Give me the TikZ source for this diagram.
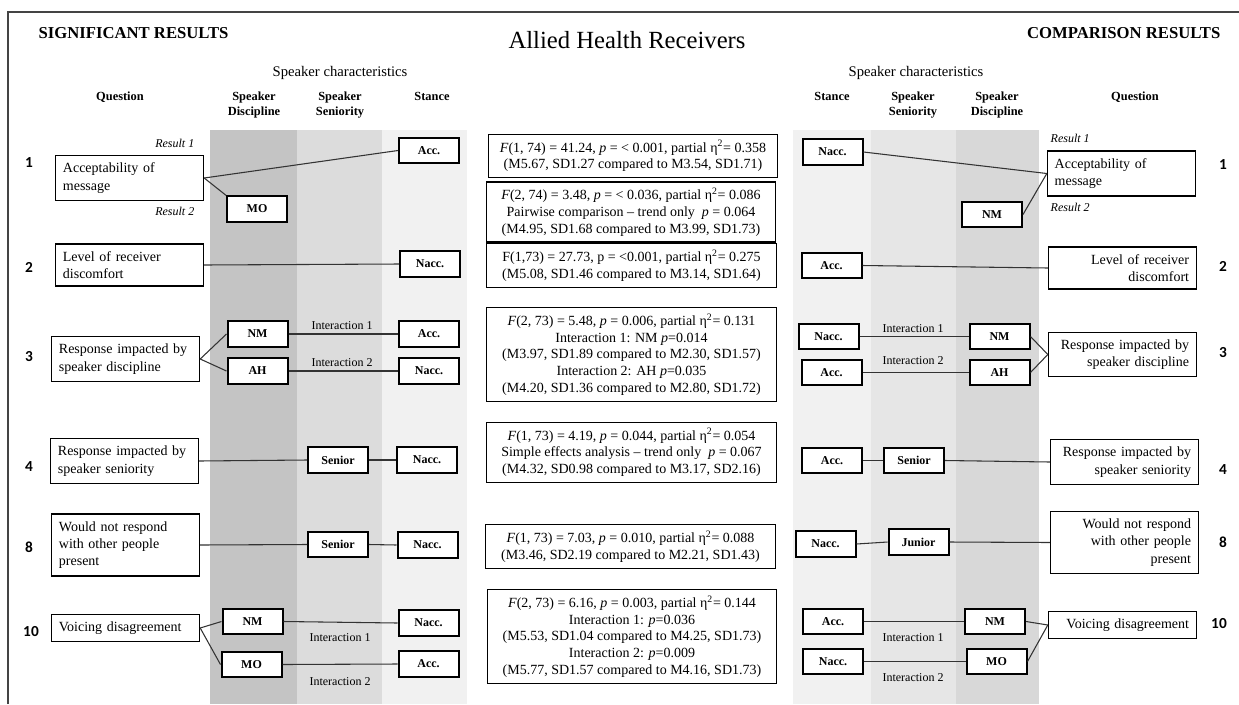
\documentclass[tikz,border=0pt]{standalone}
\usepackage{fontspec}
\setmainfont{Liberation Serif}
\newfontfamily\numfont{Carlito}
\definecolor{discL}{HTML}{C4C4C4}
\definecolor{seniL}{HTML}{DCDCDC}
\definecolor{stanL}{HTML}{F1F1F1}
\definecolor{stanR}{HTML}{F1F1F1}
\definecolor{seniR}{HTML}{E6E6E6}
\definecolor{discR}{HTML}{D8D8D8}
\definecolor{linkgray}{HTML}{333333}
\definecolor{framegray}{HTML}{444444}

\begin{document}
\begin{tikzpicture}[x=0.75pt,y=-0.75pt]
  \tikzset{
    qbox/.style={draw, fill=white, line width=0.9pt, text width=100pt, inner xsep=5.5pt, inner ysep=5.5pt,
      font=\fontsize{10.5}{13}\selectfont},
    qleft/.style={qbox, align=left, anchor=west},
    qright/.style={qbox, align=right, anchor=east},
    tag/.style={draw, fill=white, line width=1.5pt, minimum width=45pt, minimum height=19pt, inner sep=0pt,
      font=\fontsize{9}{10}\selectfont\bfseries},
    stat/.style={draw, fill=white, line width=0.9pt, minimum width=217pt, align=center, inner ysep=4.5pt,
      font=\fontsize{10.5}{12.5}\selectfont},
    link/.style={line width=0.8pt, draw=linkgray},
    inter/.style={font=\fontsize{9}{10}\selectfont},
    res/.style={font=\fontsize{9}{10}\selectfont\itshape},
    colhead/.style={font=\fontsize{9.3}{11}\selectfont\bfseries, align=center, anchor=north, inner sep=0pt},
    qnum/.style={font=\fontsize{11.5}{12}\numfont\bfseries}
  }

  \useasboundingbox (0,0) rectangle (1239,704);

  % column shading
  \fill[discL] (210,130) rectangle (297,704);
  \fill[seniL] (297,130) rectangle (382,704);
  \fill[stanL] (382,130) rectangle (467,704);
  \fill[stanR] (793,130) rectangle (871,704);
  \fill[seniR] (871,130) rectangle (956,704);
  \fill[discR] (956,130) rectangle (1039,704);

  \draw[framegray, line width=1.1pt] (8,704) -- (8,12) -- (1239,12);

  % headings
  \node[anchor=west, font=\fontsize{12.5}{14}\selectfont\bfseries] (sig) at (34,33) {SIGNIFICANT RESULTS};
  \node[font=\fontsize{18.5}{21}\selectfont] (title) at (627,40) {Allied Health Receivers};
  \node[anchor=east, font=\fontsize{12.5}{14}\selectfont\bfseries] (comp) at (1225,33) {COMPARISON RESULTS};
  \node[font=\fontsize{11}{12}\selectfont] (charL) at (340,73) {Speaker characteristics};
  \node[font=\fontsize{11}{12}\selectfont] (charR) at (916,73) {Speaker characteristics};

  \node[colhead] (hqL) at (120,92) {Question};
  \node[colhead] (hdL) at (254,92) {Speaker\\Discipline};
  \node[colhead] (hsL) at (340,92) {Speaker\\Seniority};
  \node[colhead] (htL) at (432,92) {Stance};
  \node[colhead] (htR) at (832,92) {Stance};
  \node[colhead] (hsR) at (913,92) {Speaker\\Seniority};
  \node[colhead] (hdR) at (997,92) {Speaker\\Discipline};
  \node[colhead] (hqR) at (1135,92) {Question};

  % question numbers
  \node[qnum] (n1L) at (29,163) {1};
  \node[qnum] (n2L) at (29,267) {2};
  \node[qnum] (n3L) at (29,357) {3};
  \node[qnum] (n4L) at (29,467) {4};
  \node[qnum] (n8L) at (29,547) {8};
  \node[qnum] (n10L) at (31,632) {10};
  \node[qnum] (n1R) at (1223,165) {1};
  \node[qnum] (n2R) at (1223,266) {2};
  \node[qnum] (n3R) at (1223,353) {3};
  \node[qnum] (n4R) at (1223,470) {4};
  \node[qnum] (n8R) at (1223,542) {8};
  \node[qnum] (n10R) at (1219,624) {10};

  % significant results (left)
  \node[qleft] (q1) at (55,178) {Acceptability of\\message};
  \node[res, anchor=east] (r1L) at (199,143) {Result 1};
  \node[res, anchor=east] (r2L) at (199,211) {Result 2};
  \node[tag] (acc1) at (429,150.5) {Acc.};
  \node[tag] (mo1) at (257,209) {MO};

  \node[qleft] (q2) at (55,265) {Level of receiver\\discomfort};
  \node[tag] (nacc2) at (430,264) {Nacc.};

  \node[qleft] (q3) at (51,359) {Response impacted by\\speaker discipline};
  \node[tag] (nm3) at (257.5,334) {NM};
  \node[tag] (ah3) at (257.5,371) {AH};
  \node[tag] (acc3) at (429,334) {Acc.};
  \node[tag] (nacc3) at (429,371) {Nacc.};
  \node[inter] (i1L3) at (342,326) {Interaction 1};
  \node[inter] (i2L3) at (342,363) {Interaction 2};

  \node[qleft] (q4) at (50,461) {Response impacted by\\speaker seniority};
  \node[tag] (senior4) at (338,460) {Senior};
  \node[tag] (nacc4) at (427,460) {Nacc.};

  \node[qleft] (q8) at (51,545) {Would not respond\\with other people\\present};
  \node[tag] (senior8) at (338,544.5) {Senior};
  \node[tag] (nacc8) at (427.5,545) {Nacc.};

  \node[qleft] (q10) at (51,628) {Voicing disagreement};
  \node[tag] (nm10) at (252.5,621.5) {NM};
  \node[tag] (mo10) at (251.5,664.5) {MO};
  \node[tag] (nacc10) at (428.5,623) {Nacc.};
  \node[tag] (acc10) at (428.5,664) {Acc.};
  \node[inter] (i1L10) at (340,638) {Interaction 1};
  \node[inter] (i2L10) at (340,682) {Interaction 2};

  \draw[link] (q1.east) -- (acc1.west);
  \draw[link] (q1.east) -- (mo1.north west);
  \draw[link] (q2.east) -- (nacc2.west);
  \draw[link] (q3.east) -- (nm3.west);
  \draw[link] (q3.east) -- (ah3.west);
  \draw[link] (nm3.east) -- (acc3.west);
  \draw[link] (ah3.east) -- (nacc3.west);
  \draw[link] (q4.east) -- (senior4.west);
  \draw[link] (senior4.east) -- (nacc4.west);
  \draw[link] (q8.east) -- (senior8.west);
  \draw[link] (senior8.east) -- (nacc8.west);
  \draw[link] (q10.east) -- (nm10.west);
  \draw[link] (q10.east) -- (mo10.west);
  \draw[link] (nm10.east) -- (nacc10.west);
  \draw[link] (mo10.east) -- (acc10.west);

  % statistics
  \node[stat] (s1) at (633,156) {\textit{F}(1, 74) = 41.24, \textit{p} = < 0.001, partial η\textsuperscript{2}= 0.358\\
    (M5.67, SD1.27 compared to M3.54, SD1.71)};
  \node[stat] (s1b) at (631,212) {\textit{F}(2, 74) = 3.48, \textit{p} = < 0.036, partial η\textsuperscript{2}= 0.086\\
    Pairwise comparison – trend only\ \ \textit{p} = 0.064\\
    (M4.95, SD1.68 compared to M3.99, SD1.73)};
  \node[stat] (s2) at (631.5,265.5) {F(1,73) = 27.73, p = <0.001, partial η\textsuperscript{2}= 0.275\\
    (M5.08, SD1.46 compared to M3.14, SD1.64)};
  \node[stat] (s3) at (631.5,354.5) {\textit{F}(2, 73) = 5.48, \textit{p} = 0.006, partial η\textsuperscript{2}= 0.131\\
    Interaction 1: NM \textit{p}=0.014\\
    (M3.97, SD1.89 compared to M2.30, SD1.57)\\
    Interaction 2: AH \textit{p}=0.035\\
    (M4.20, SD1.36 compared to M2.80, SD1.72)};
  \node[stat] (s4) at (631.5,452.5) {\textit{F}(1, 73) = 4.19, \textit{p} = 0.044, partial η\textsuperscript{2}= 0.054\\
    Simple effects analysis – trend only\ \ \textit{p} = 0.067\\
    (M4.32, SD0.98 compared to M3.17, SD2.16)};
  \node[stat] (s8) at (630.5,546.5) {\textit{F}(1, 73) = 7.03, \textit{p} = 0.010, partial η\textsuperscript{2}= 0.088\\
    (M3.46, SD2.19 compared to M2.21, SD1.43)};
  \node[stat] (s10) at (632,636.5) {\textit{F}(2, 73) = 6.16, \textit{p} = 0.003, partial η\textsuperscript{2}= 0.144\\
    Interaction 1: \textit{p}=0.036\\
    (M5.53, SD1.04 compared to M4.25, SD1.73)\\
    Interaction 2: \textit{p}=0.009\\
    (M5.77, SD1.57 compared to M4.16, SD1.73)};

  % comparison results (right)
  \node[qright, align=left] (qR1) at (1196,173.5) {Acceptability of\\message};
  \node[res, anchor=west] (r1R) at (1046,138) {Result 1};
  \node[res, anchor=west] (r2R) at (1046,207) {Result 2};
  \node[tag] (naccR1) at (832.5,152) {Nacc.};
  \node[tag] (nmR1) at (992,214.5) {NM};

  \node[qright] (qR2) at (1197,268) {Level of receiver\\discomfort};
  \node[tag] (accR2) at (831.5,265.5) {Acc.};

  \node[qright] (qR3) at (1197,354.5) {Response impacted by\\speaker discipline};
  \node[tag] (naccR3) at (828.5,336.5) {Nacc.};
  \node[tag] (accR3) at (831.5,372.5) {Acc.};
  \node[tag] (nmR3) at (999.5,336.5) {NM};
  \node[tag] (ahR3) at (999.5,372.5) {AH};
  \node[inter] (i1R3) at (913,329) {Interaction 1};
  \node[inter] (i2R3) at (913,361) {Interaction 2};

  \node[qright] (qR4) at (1199,462) {Response impacted by\\speaker seniority};
  \node[tag] (accR4) at (832,460.5) {Acc.};
  \node[tag] (seniorR4) at (914,460.5) {Senior};

  \node[qright] (qR8) at (1199,542.5) {Would not respond\\with other people\\present};
  \node[tag] (naccR8) at (825.5,544) {Nacc.};
  \node[tag] (juniorR8) at (918.5,542) {Junior};

  \node[qright] (qR10) at (1197,625) {Voicing disagreement};
  \node[tag] (accR10) at (833,621.5) {Acc.};
  \node[tag] (naccR10) at (833,661.5) {Nacc.};
  \node[tag] (nmR10) at (995,621.5) {NM};
  \node[tag] (moR10) at (996.5,661.5) {MO};
  \node[inter] (i1R10) at (913,638) {Interaction 1};
  \node[inter] (i2R10) at (913,678) {Interaction 2};

  \draw[link] (naccR1.east) -- (qR1.west);
  \draw[link] (nmR1.east) -- (qR1.west);
  \draw[link] (accR2.east) -- (qR2.west);
  \draw[link] (naccR3.east) -- (nmR3.west);
  \draw[link] (accR3.east) -- (ahR3.west);
  \draw[link] (nmR3.east) -- (qR3.west);
  \draw[link] (ahR3.east) -- (qR3.west);
  \draw[link] (accR4.east) -- (seniorR4.west);
  \draw[link] (seniorR4.east) -- (qR4.west);
  \draw[link] (naccR8.east) -- (juniorR8.west);
  \draw[link] (juniorR8.east) -- (qR8.west);
  \draw[link] (accR10.east) -- (nmR10.west);
  \draw[link] (naccR10.east) -- (moR10.west);
  \draw[link] (nmR10.east) -- (qR10.west);
  \draw[link] (moR10.east) -- (qR10.west);
\end{tikzpicture}
\end{document}
